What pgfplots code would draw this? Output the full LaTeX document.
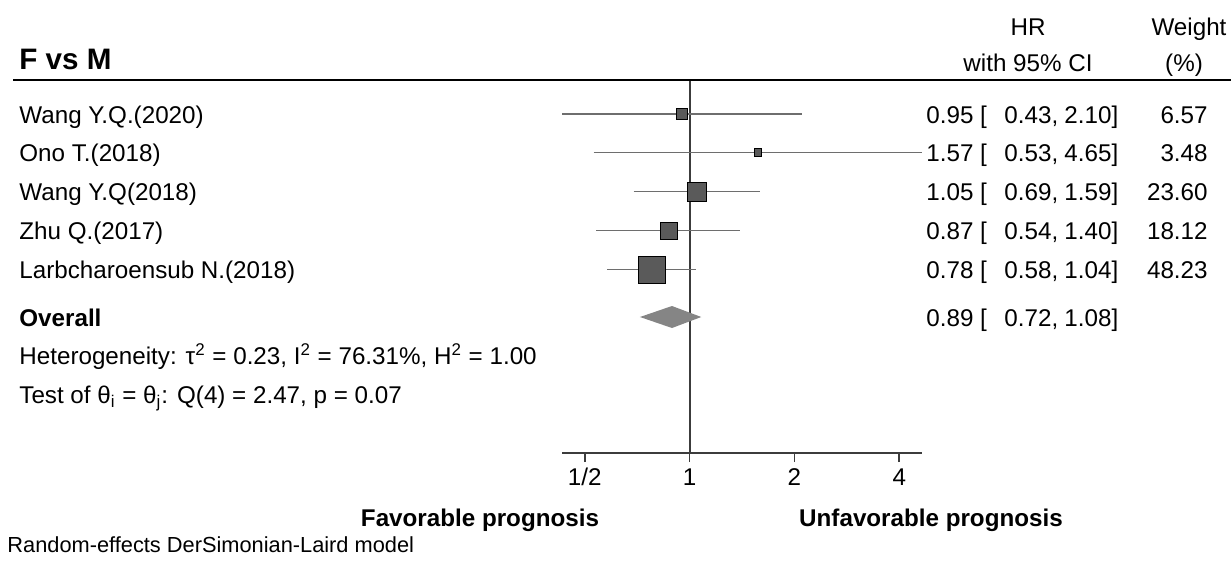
\documentclass[border=0pt]{standalone}
\usepackage{fontspec}
\setmainfont{Liberation Sans}
\usepackage{pgfplots}
\pgfplotsset{compat=1.18}
\definecolor{sq}{HTML}{5A5A5A}
\definecolor{ci}{HTML}{6E6E6E}
\definecolor{dia}{HTML}{858585}
\definecolor{ax}{HTML}{3C3C3C}
\newcommand{\nf}{\fontsize{12.1pt}{14pt}\selectfont}
\newcommand{\bfn}{\fontsize{12.1pt}{14pt}\selectfont\bfseries}
\begin{document}
\begin{tikzpicture}
\useasboundingbox (0,0) rectangle (615.5pt,-281pt);
\begin{axis}[
  at={(281pt,-226.5pt)}, anchor=south west,
  scale only axis, width=180pt, height=186.5pt,
  xmode=log, log basis x=2,
  xmin=0.43, xmax=4.65, ymin=-453, ymax=-80,
  axis x line=bottom, axis y line=none,
  x axis line style={-, draw=ax, line width=0.75pt},
  xtick={0.5,1,2,4}, xticklabels={1/2,1,2,4},
  minor xtick={},
  tick align=outside, major tick length=4.5pt,
  every tick/.style={draw=ax, line width=0.75pt},
  xticklabel style={font=\nf, inner sep=0pt, anchor=base, yshift=-11.5pt},
  clip=false,
]
\addplot[draw=ax, line width=0.9pt] coordinates {(1,-80) (1,-453)};
% confidence intervals
\addplot[draw=ci, line width=0.8pt] coordinates {(0.43,-114) (2.10,-114)};
\addplot[draw=ci, line width=0.8pt] coordinates {(0.53,-152.5) (4.65,-152.5)};
\addplot[draw=ci, line width=0.8pt] coordinates {(0.69,-191.5) (1.59,-191.5)};
\addplot[draw=ci, line width=0.8pt] coordinates {(0.54,-230.5) (1.40,-230.5)};
\addplot[draw=ci, line width=0.8pt] coordinates {(0.58,-269.5) (1.04,-269.5)};
% weight squares
\addplot[only marks, mark=square*, mark size=2.65pt, mark options={draw=none, fill=sq}] coordinates {(0.95,-114)};
\addplot[only marks, mark=square*, mark size=1.9pt, mark options={draw=none, fill=sq}] coordinates {(1.57,-152.5)};
\addplot[only marks, mark=square*, mark size=4.8pt, mark options={draw=none, fill=sq}] coordinates {(1.05,-191.5)};
\addplot[only marks, mark=square*, mark size=4.25pt, mark options={draw=none, fill=sq}] coordinates {(0.87,-230.5)};
\addplot[only marks, mark=square*, mark size=6.8pt, mark options={draw=none, fill=sq}] coordinates {(0.78,-269.5)};
% overall diamond
\addplot[fill=dia, draw=none] coordinates {(0.72,-317) (0.89,-306) (1.08,-317) (0.89,-328)} -- cycle;
\end{axis}
\begin{scope}[x=0.5pt, y=-0.5pt, every node/.style={inner sep=0pt}]
\draw[black, line width=1pt] (13,80) -- (1231,80);
\node[anchor=base west, font=\fontsize{14.8pt}{17pt}\selectfont\bfseries] at (19,69) {F vs M};
\node[anchor=base, font=\nf] at (1028,35) {HR};
\node[anchor=base, font=\nf] at (1028,71) {with 95\% CI};
\node[anchor=base, font=\nf] at (1189,35) {Weight};
\node[anchor=base, font=\nf] at (1184,71) {(\%)};
% study labels
\node[anchor=base west, font=\nf] at (19,123) {Wang Y.Q.(2020)};
\node[anchor=base west, font=\nf] at (19,161.5) {Ono T.(2018)};
\node[anchor=base west, font=\nf] at (19,200.5) {Wang Y.Q(2018)};
\node[anchor=base west, font=\nf] at (19,239.5) {Zhu Q.(2017)};
\node[anchor=base west, font=\nf] at (19,278.5) {Larbcharoensub N.(2018)};
\node[anchor=base west, font=\bfn] at (19,326) {Overall};
\node[anchor=base west, font=\nf] at (19,364.5) {Heterogeneity: τ\textsuperscript{2} = 0.23, I\textsuperscript{2} = 76.31\%, H\textsuperscript{2} = 1.00};
\node[anchor=base west, font=\nf] at (19,403) {Test of θ\textsubscript{i} = θ\textsubscript{j}: Q(4) = 2.47, p = 0.07};
% HR columns
\foreach \y/\a/\b/\c/\w in {123/0.95/0.43/2.10/6.57, 161.5/1.57/0.53/4.65/3.48, 200.5/1.05/0.69/1.59/23.60, 239.5/0.87/0.54/1.40/18.12, 278.5/0.78/0.58/1.04/48.23}{
  \node[anchor=base west, font=\nf] at (926,\y) {\a\ [};
  \node[anchor=base west, font=\nf] at (1004,\y) {\b,};
  \node[anchor=base west, font=\nf] at (1064,\y) {\c]};
  \node[anchor=base east, font=\nf] at (1208,\y) {\w};
}
\node[anchor=base west, font=\nf] at (926,326) {0.89 [};
\node[anchor=base west, font=\nf] at (1004,326) {0.72,};
\node[anchor=base west, font=\nf] at (1064,326) {1.08]};
% bottom labels
\node[anchor=base, font=\bfn] at (480,526) {Favorable prognosis};
\node[anchor=base, font=\bfn] at (931,526) {Unfavorable prognosis};
\node[anchor=base west, font=\fontsize{10.9pt}{13pt}\selectfont] at (7,552) {Random-effects DerSimonian-Laird model};
\end{scope}
\end{tikzpicture}
\end{document}
